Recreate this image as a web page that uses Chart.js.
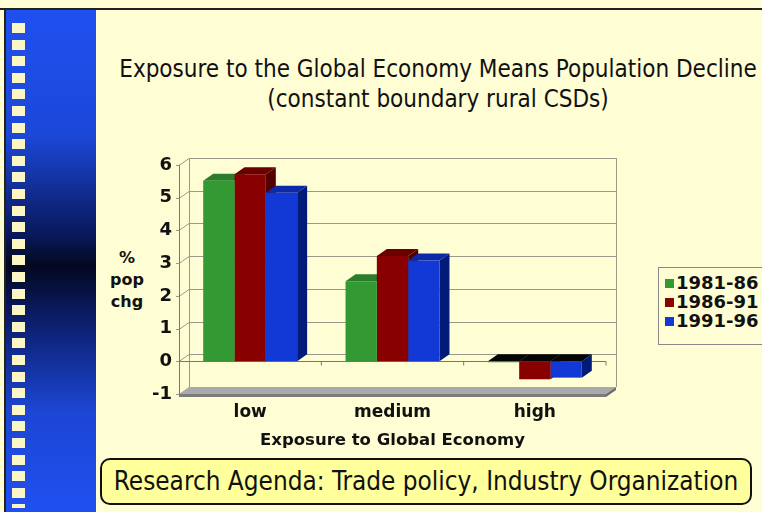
<!DOCTYPE html>
<html>
<head>
<meta charset="utf-8">
<script src="https://cdn.jsdelivr.net/npm/chart.js@4.4.1/dist/chart.umd.min.js"></script>
<style>
  html, body { margin: 0; padding: 0; }
  body {
    width: 762px; height: 512px; overflow: hidden; position: relative;
    background: #fefdd4;
    font-family: "DejaVu Sans", Verdana, sans-serif;
  }
  #frameTop { position: absolute; left: 0; top: 8px; width: 762px; height: 2px; background: #222; }
  #frameLeft { position: absolute; left: 4px; top: 8px; width: 2px; height: 504px; background: #222; }
  #strip {
    position: absolute; left: 6px; top: 10px; width: 90px; height: 502px;
    background: linear-gradient(to bottom, #1f50f0 0%, #1c48d8 25%, #0a1a60 44%, #030820 51%, #0a1a60 60%, #1c46d4 80%, #1f50f0 100%);
  }
  #squares {
    position: absolute; left: 12px; top: 23px; width: 13px; height: 485px;
    background: repeating-linear-gradient(to bottom, #fbf6c4 0px, #fbf6c4 10px, transparent 10px, transparent 16.6px);
  }
  #title {
    position: absolute; left: 78px; top: 54px; width: 720px; text-align: center;
    font-family: "DejaVu Sans Condensed", "DejaVu Sans", sans-serif;
    font-size: 24px; line-height: 30px; color: #111;
  }
  #ytitle {
    position: absolute; left: 98px; top: 247px; width: 58px; text-align: center;
    font-weight: bold; font-size: 16px; line-height: 22px; color: #111;
  }
  #chartBox { position: absolute; left: 96px; top: 130px; width: 560px; height: 330px; }
  #legend {
    position: absolute; left: 658px; top: 267px; width: 120px; height: 78px;
    border: 1px solid #888; box-sizing: border-box; padding-top: 5px;
  }
  .item { height: 19px; line-height: 19px; font-weight: bold; font-size: 18px; color: #111; white-space: nowrap; }
  .sw { display: inline-block; width: 9px; height: 9px; margin: 0 2px 0 6px; vertical-align: 1px; }
  #note {
    position: absolute; left: 100px; top: 458px; width: 652px; height: 47px;
    border: 2px solid #111; border-radius: 10px; background: #ffff9c; box-sizing: border-box;
    text-align: center; line-height: 43px; font-size: 25.9px; color: #111;
    font-family: "DejaVu Sans Condensed", "DejaVu Sans", sans-serif;
  }
</style>
</head>
<body>
<div id="frameTop"></div>
<div id="frameLeft"></div>
<div id="strip"></div>
<div id="squares"></div>
<div id="title">Exposure to the Global Economy Means Population Decline<br>(constant boundary rural CSDs)</div>
<div id="ytitle">%<br>pop<br>chg</div>
<div id="chartBox"><canvas id="popChart" width="560" height="330"></canvas></div>
<div id="legend"></div>
<div id="note">Research Agenda: Trade policy, Industry Organization</div>

<script>
const categories = ["low", "medium", "high"];
const seriesNames = ["1981-86", "1986-91", "1991-96"];
const p1981 = [5.52, 2.45, -0.03];
const p1986 = [5.72, 3.22, -0.55];
const p1991 = [5.15, 3.08, -0.50];
const yMin = -1;
const yMax = 6;

const fronts = ["#339933", "#880000", "#1238d6"];
const tops = ["#2a7d2a", "#6a0000", "#0c2aa8"];
const sides = ["#1f5c1f", "#520000", "#001c78"];

const DX = 10, DY = -7;

// legend
const legendEl = document.getElementById("legend");
seriesNames.forEach((name, i) => {
  const row = document.createElement("div");
  row.className = "item";
  row.innerHTML = '<span class="sw" style="background:' + fronts[i] + '"></span>' + name;
  legendEl.appendChild(row);
});

function poly(ctx, pts, fill) {
  ctx.beginPath();
  ctx.moveTo(pts[0][0], pts[0][1]);
  for (let k = 1; k < pts.length; k++) ctx.lineTo(pts[k][0], pts[k][1]);
  ctx.closePath();
  ctx.fillStyle = fill;
  ctx.fill();
}

// walls, floor, gridlines and the depth faces of each bar
const depthPlugin = {
  id: "depth",
  beforeDatasetsDraw(chart) {
    const ctx = chart.ctx;
    const y = chart.scales.y;
    const L = chart.chartArea.left, R = chart.chartArea.right;
    const yBot = y.getPixelForValue(yMin), yTop = y.getPixelForValue(yMax);
    ctx.save();

    // floor
    poly(ctx, [[L, yBot], [R, yBot], [R + DX, yBot + DY], [L + DX, yBot + DY]], "#a9a9a9");
    poly(ctx, [[L, yBot], [R, yBot], [R, yBot + 3], [L, yBot + 3]], "#7c7c7c");
    poly(ctx, [[R, yBot], [R + DX, yBot + DY], [R + DX, yBot + DY + 3], [R, yBot + 3]], "#6c6c6c");

    // gridlines on back and left wall
    ctx.strokeStyle = "#9a9a8a";
    ctx.lineWidth = 1;
    for (let v = yMin; v <= yMax; v++) {
      const py = Math.round(y.getPixelForValue(v)) + 0.5;
      ctx.beginPath();
      ctx.moveTo(L - 3, py);
      ctx.lineTo(L, py);
      if (v > yMin) {
        ctx.lineTo(L + DX, py + DY);
        ctx.lineTo(R + DX, py + DY);
      }
      ctx.stroke();
    }
    ctx.beginPath();
    ctx.moveTo(L + DX + 0.5, yTop + DY);
    ctx.lineTo(L + DX + 0.5, yBot + DY);
    ctx.moveTo(R + DX + 0.5, yTop + DY);
    ctx.lineTo(R + DX + 0.5, yBot + DY);
    ctx.stroke();
    ctx.strokeStyle = "#777";
    ctx.beginPath();
    ctx.moveTo(L + 0.5, yTop);
    ctx.lineTo(L + 0.5, yBot + 3);
    ctx.stroke();

    // zero axis with category ticks
    const y0 = Math.round(y.getPixelForValue(0)) + 0.5;
    ctx.beginPath();
    ctx.moveTo(L, y0);
    ctx.lineTo(R, y0);
    const step = (R - L) / categories.length;
    for (let c = 1; c <= categories.length; c++) {
      ctx.moveTo(L + step * c, y0);
      ctx.lineTo(L + step * c, y0 + 4);
    }
    ctx.stroke();

    // side faces then top faces
    const metas = chart.data.datasets.map((d, i) => chart.getDatasetMeta(i));
    metas.forEach((meta, i) => {
      meta.data.forEach(bar => {
        const p = bar.getProps(["x", "y", "base", "width"], true);
        const r = p.x + p.width / 2;
        const hi = Math.min(p.y, p.base), lo = Math.max(p.y, p.base);
        poly(ctx, [[r, hi], [r + DX, hi + DY], [r + DX, lo + DY], [r, lo]], sides[i]);
      });
    });
    metas.forEach((meta, i) => {
      meta.data.forEach((bar, j) => {
        const p = bar.getProps(["x", "y", "base", "width"], true);
        const l = p.x - p.width / 2, r = p.x + p.width / 2;
        const hi = Math.min(p.y, p.base);
        const neg = chart.data.datasets[i].data[j] < 0;
        poly(ctx, [[l, hi], [r, hi], [r + DX, hi + DY], [l + DX, hi + DY]], neg ? "#050505" : tops[i]);
      });
    });
    ctx.restore();
  }
};

const boldFont = { family: "'DejaVu Sans', Verdana, sans-serif", weight: "bold" };

new Chart(document.getElementById("popChart"), {
  type: "bar",
  data: {
    labels: categories,
    datasets: [
      { label: seriesNames[0], data: p1981, backgroundColor: fronts[0] },
      { label: seriesNames[1], data: p1986, backgroundColor: fronts[1] },
      { label: seriesNames[2], data: p1991, backgroundColor: fronts[2] }
    ]
  },
  options: {
    responsive: false,
    animation: false,
    events: [],
    layout: { padding: { left: 0, right: 50, top: 35, bottom: 0 } },
    datasets: { bar: { barPercentage: 1, categoryPercentage: 0.66, borderWidth: 0 } },
    plugins: { legend: { display: false }, tooltip: { enabled: false } },
    scales: {
      x: {
        grid: { display: false, drawTicks: false },
        border: { display: false },
        ticks: { padding: 8, color: "#111", font: { ...boldFont, size: 17 } },
        title: {
          display: true, text: "Exposure to Global Economy", color: "#111",
          font: { ...boldFont, size: 16.5 }, padding: { top: 0, bottom: 9 }
        },
        afterFit(scale) { scale.height = 66; }
      },
      y: {
        min: yMin, max: yMax,
        grid: { display: false, drawTicks: false },
        border: { display: false },
        ticks: { stepSize: 1, padding: 7, color: "#111", font: { ...boldFont, size: 18 } },
        afterFit(scale) { scale.width = 83; }
      }
    }
  },
  plugins: [depthPlugin]
});
</script>
</body>
</html>
